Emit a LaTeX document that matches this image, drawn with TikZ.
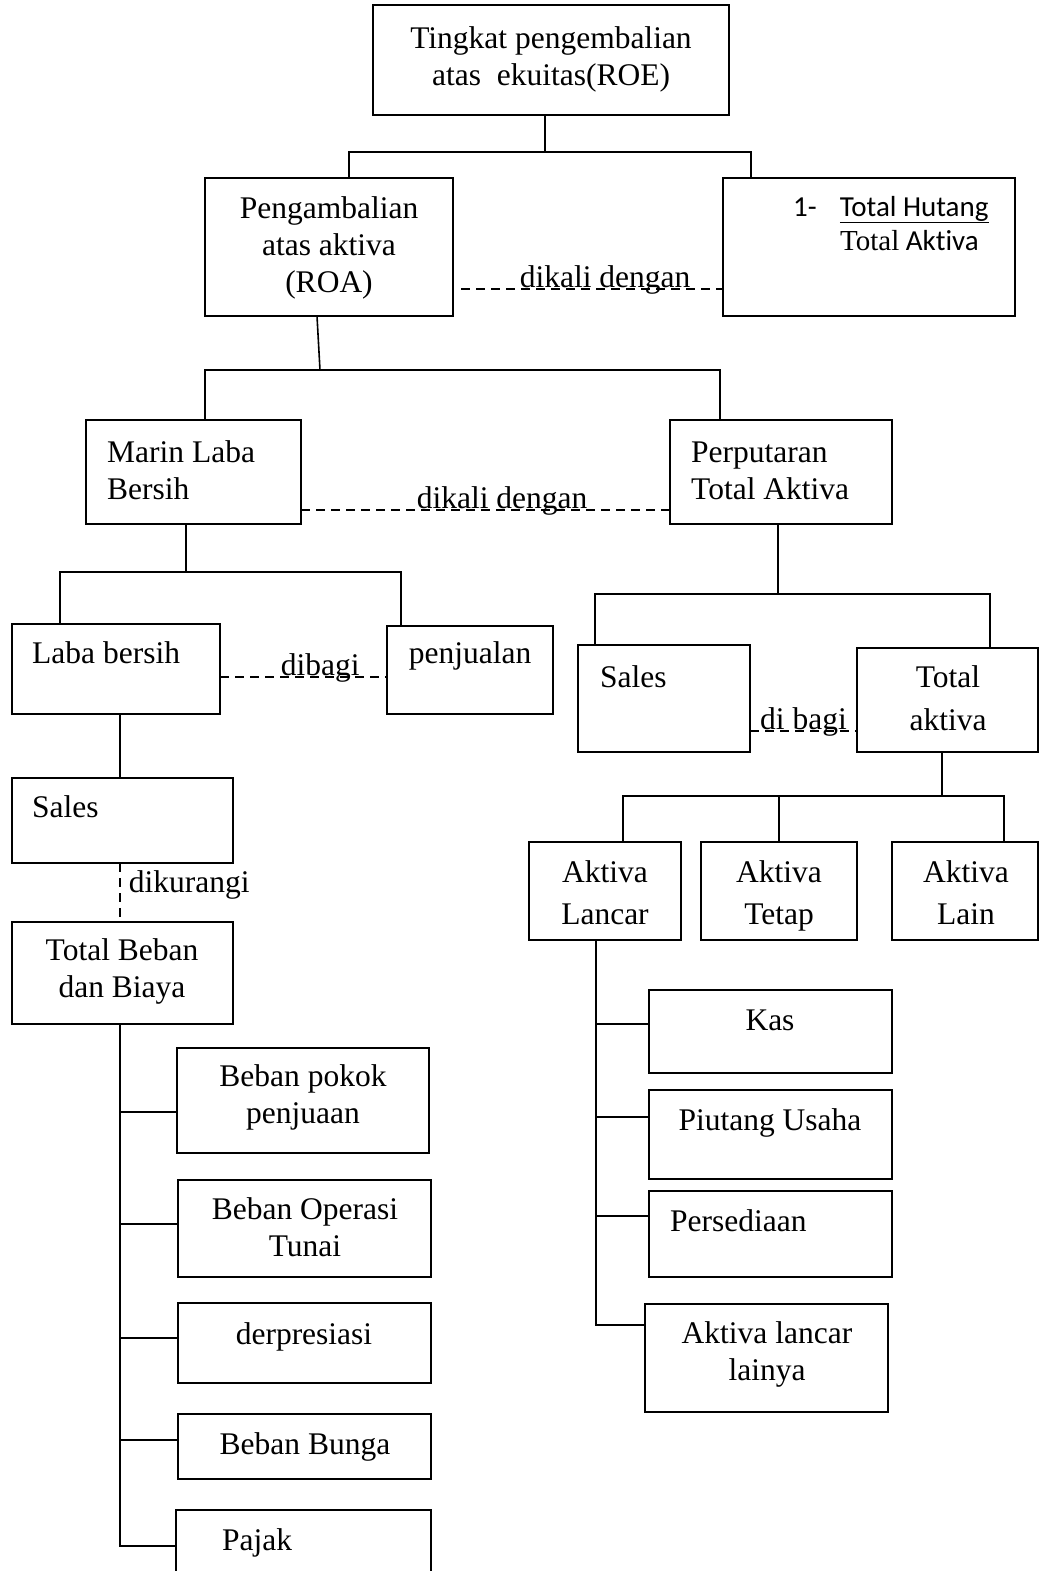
\documentclass[tikz,border=0pt]{standalone}
\usepackage{fontspec}
\setmainfont{Liberation Serif}
\newfontfamily\carlito[Ligatures=NoCommon]{Carlito}
\usetikzlibrary{positioning}
\tikzset{
  kotak/.style={draw, line width=1.6pt, anchor=north west, inner sep=0, outer sep=0},
  teks/.style={font=\fontsize{31.5}{37}\selectfont, align=center, anchor=base, inner sep=0},
  teks kiri/.style={teks, align=left, anchor=base west},
  garis/.style={line width=1.6pt},
  putus/.style={line width=1.6pt, dash pattern=on 9pt off 6pt},
  ket/.style={font=\fontsize{31.5}{37}\selectfont, anchor=base, inner sep=0, yshift=2pt}
}
\begin{document}
\begin{tikzpicture}[x=1pt, y=-1pt]
  \useasboundingbox (0,0) rectangle (1040,1571);
  % kotak-kotak
  \node[kotak, minimum width=356, minimum height=110] (roe) at (373,5) {};
  \node[kotak, minimum width=248, minimum height=138] (roa) at (205,178) {};
  \node[kotak, minimum width=292, minimum height=138] (hutang) at (723,178) {};
  \node[kotak, minimum width=215, minimum height=104] (marin) at (86,420) {};
  \node[kotak, minimum width=222, minimum height=104] (putar) at (670,420) {};
  \node[kotak, minimum width=208, minimum height=90] (laba) at (12,624) {};
  \node[kotak, minimum width=166, minimum height=88] (jual) at (387,626) {};
  \node[kotak, minimum width=172, minimum height=107] (sales2) at (578,645) {};
  \node[kotak, minimum width=181, minimum height=104] (totakt) at (857,648) {};
  \node[kotak, minimum width=221, minimum height=85] (sales1) at (12,778) {};
  \node[kotak, minimum width=221, minimum height=102] (beban) at (12,922) {};
  \node[kotak, minimum width=252, minimum height=105] (bpp) at (177,1048) {};
  \node[kotak, minimum width=253, minimum height=97] (bop) at (178,1180) {};
  \node[kotak, minimum width=253, minimum height=80] (dep) at (178,1303) {};
  \node[kotak, minimum width=253, minimum height=65] (bunga) at (178,1414) {};
  \node[kotak, minimum width=255, minimum height=72] (pajak) at (176,1510) {};
  \node[kotak, minimum width=152, minimum height=98] (lancar) at (529,842) {};
  \node[kotak, minimum width=156, minimum height=98] (tetap) at (701,842) {};
  \node[kotak, minimum width=146, minimum height=98] (lain) at (892,842) {};
  \node[kotak, minimum width=243, minimum height=83] (kas) at (649,990) {};
  \node[kotak, minimum width=243, minimum height=89] (piutang) at (649,1090) {};
  \node[kotak, minimum width=243, minimum height=86] (sedia) at (649,1191) {};
  \node[kotak, minimum width=243, minimum height=108] (lainya) at (645,1304) {};

  % tulisan (base = garis dasar baris terakhir)
  \node[teks] (roe-t) at (551,85) {Tingkat pengembalian\\atas~~ekuitas(ROE)};
  \node[teks] (roa-t) at (329,292) {Pengambalian\\atas aktiva\\(ROA)};
  \node[teks kiri, font=\carlito\fontsize{29}{34}\selectfont] (hutang-t1) at (793,216) {1-\hspace{23pt}\underline{Total Hutang}};
  \node[teks kiri, font=\carlito\fontsize{29}{34}\selectfont] (hutang-t2) at (840,250) {{\rmfamily Total} Aktiva};
  \node[teks kiri] (marin-t) at (107,499) {Marin Laba\\Bersih};
  \node[teks kiri] (putar-t) at (691,499) {Perputaran\\Total Aktiva};
  \node[teks kiri] (laba-t) at (32,663) {Laba bersih};
  \node[teks] (jual-t) at (470,663) {penjualan};
  \node[teks kiri] (sales2-t) at (600,687) {Sales};
  \node[teks] (totakt-t) at (948,730) {Total\\[6pt]aktiva};
  \node[teks kiri] (sales1-t) at (32,817) {Sales};
  \node[teks] (beban-t) at (122,997) {Total Beban\\dan Biaya};
  \node[teks] (bpp-t) at (303,1123) {Beban pokok\\penjuaan};
  \node[teks] (bop-t) at (305,1256) {Beban Operasi\\Tunai};
  \node[teks] (dep-t) at (304,1344) {derpresiasi};
  \node[teks] (bunga-t) at (305,1454) {Beban Bunga};
  \node[teks kiri] (pajak-t) at (222,1550) {Pajak};
  \node[teks] (lancar-t) at (605,924) {Aktiva\\[5pt]Lancar};
  \node[teks] (tetap-t) at (779,924) {Aktiva\\[5pt]Tetap};
  \node[teks] (lain-t) at (966,924) {Aktiva\\[5pt]Lain};
  \node[teks] (kas-t) at (770,1030) {Kas};
  \node[teks] (piutang-t) at (770,1130) {Piutang Usaha};
  \node[teks kiri] (sedia-t) at (670,1231) {Persediaan};
  \node[teks] (lainya-t) at (767,1380) {Aktiva lancar\\lainya};

  % cabang
  \coordinate (j1) at (545,152);
  \coordinate (j1a) at (349,152);
  \coordinate (j1b) at (751,152);
  \draw[garis] (roe.south -| j1) -- (j1);
  \draw[garis] (roa.north -| j1a) -- (j1a) -- (j1b) -- (hutang.north -| j1b);

  \coordinate (j2a) at (205,370);
  \coordinate (j2b) at (720,370);
  \draw[garis] ([xshift=-12pt]roa.south) -- (320,370);
  \draw[garis] (marin.north -| j2a) -- (j2a) -- (j2b) -- (putar.north -| j2b);

  \coordinate (j3) at (186,572);
  \coordinate (j3a) at (60,572);
  \coordinate (j3b) at (401,572);
  \draw[garis] (marin.south -| j3) -- (j3);
  \draw[garis] (laba.north -| j3a) -- (j3a) -- (j3b) -- (jual.north -| j3b);

  \coordinate (j4) at (778,594);
  \coordinate (j4a) at (595,594);
  \coordinate (j4b) at (990,594);
  \draw[garis] (putar.south -| j4) -- (j4);
  \draw[garis] (sales2.north -| j4a) -- (j4a) -- (j4b) -- (totakt.north -| j4b);

  \coordinate (j5) at (120,0);
  \draw[garis] (laba.south -| j5) -- (sales1.north -| j5);
  \draw[putus] (sales1.south -| j5) -- (beban.north -| j5)
    node[pos=0.37, anchor=west, inner sep=0, xshift=8pt, font=\fontsize{31.5}{37}\selectfont] (kurang) {dikurangi};

  \coordinate (j6) at (120,1546);
  \draw[garis] (beban.south -| j6) -- (j6) -- (pajak.west);
  \foreach \b/\s/\d in {bpp/-11.5/-57, bop/4.5/-58, dep/5/-58, bunga/6.5/-58}
    \draw[garis] ([yshift=\s pt]\b.west) -- ++(\d,0);

  \coordinate (j7) at (942,796);
  \coordinate (j7a) at (623,796);
  \coordinate (j7b) at (1004,796);
  \draw[garis] (totakt.south -| j7) -- (j7);
  \draw[garis] (lancar.north -| j7a) -- (j7a) -- (j7b) -- (lain.north -| j7b);
  \draw[garis] (tetap.north) -- (tetap.north |- j7);

  \coordinate (j8) at (596,1325);
  \draw[garis] (lancar.south -| j8) -- (j8) -- (lainya.west |- j8);
  \foreach \b/\s in {kas/7.5, piutang/17.5, sedia/18}
    \draw[garis] ([yshift=\s pt]\b.west) -- ++(-53,0);

  % garis putus-putus
  \draw[putus] ([xshift=8pt,yshift=-42pt]roa.east) -- ([yshift=-42pt]hutang.west)
    node[pos=0.55, ket] (kali1) {dikali dengan};
  \draw[putus] ([yshift=-38pt]marin.east) -- ([yshift=-38pt]putar.west)
    node[pos=0.545, ket] (kali2) {dikali dengan};
  \draw[putus] ([yshift=-8pt]laba.east) -- ([yshift=-7pt]jual.west)
    node[pos=0.6, ket] (bagi1) {dibagi};
  \draw[putus] ([yshift=-32.5pt]sales2.east) -- ([yshift=-31pt]totakt.west)
    node[midway, ket] (bagi2) {di bagi};
\end{tikzpicture}
\end{document}
